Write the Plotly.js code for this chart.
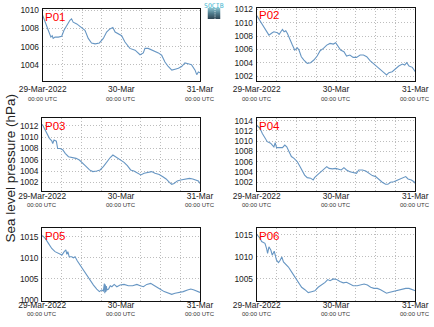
<!DOCTYPE html>
<html><head><meta charset="utf-8">
<script src="https://cdn.plot.ly/plotly-3.0.1.min.js"></script>
<style>html,body{margin:0;padding:0;background:#fff}#chart{width:434px;height:327px}</style>
</head><body><div id="chart"></div><script>
const panelNames = ['P01','P02','P03','P04','P05','P06'];
const tickHours = [0,6,12,18,24,30,36,42,48];
const tickLabels = ['29-Mar-2022','','','','30-Mar','','','','31-Mar'];
const tickSubLabel = '00:00 UTC';
const yTitle = 'Sea level pressure (hPa)';

const p01Hours = [0,0.7,1.7,2.5,2.9,3.2,3.75,4.75,5.8,6.5,7.3,8.3,8.8,9.3,10.4,11.9,12.9,13.9,14.9,16,17.3,18.5,19.5,20.5,21.4,22.1,23.1,24.1,25.1,26.6,28.2,29.7,30.7,31.2,32.2,33.7,35.3,36.3,37.3,38.3,39.4,40.4,41.4,42.4,43.4,44.4,45.4,46.5,47,47.5,48];
const p01Pressure = [1009.45,1008.7,1007.8,1007.05,1007.2,1006.9,1007.05,1007.05,1007.15,1007.8,1008.3,1008.9,1009.06,1008.7,1008.5,1008.1,1007.8,1006.9,1006.4,1006.3,1006.4,1006.9,1007.6,1007.95,1008.1,1007.6,1007.4,1007.2,1006.5,1005.8,1005.6,1005.1,1005.3,1005.8,1005.8,1005.6,1005.3,1005.05,1004.3,1003.8,1003.4,1003.5,1003.6,1003.8,1004.2,1004.1,1004.0,1003.4,1002.9,1003.2,1003.1];

const p02Hours = [0,1.2,2.2,3.0,3.7,4.7,5.2,6.3,6.8,7.3,7.8,8.3,8.8,9.3,9.8,10.8,11.5,12.3,12.8,13.5,14.3,15.3,16.3,17.3,18.3,19.2,20.2,21.2,22.2,23.2,23.9,24.6,25.4,26.4,27.2,28.2,29.2,30.2,31.3,32.3,33.3,34.3,35.3,36.5,37.5,38.5,39.3,40.0,41.0,42.0,43.0,44.1,44.8,45.4,46.1,47.1,47.6,48];
const p02Pressure = [1011.1,1010.15,1009.4,1008.65,1008.15,1008.5,1008.65,1008.5,1008.25,1008.65,1009.0,1008.65,1008.8,1008.4,1007.9,1006.65,1005.9,1006.25,1005.9,1004.9,1004.4,1003.9,1004.0,1004.4,1005.0,1005.8,1006.15,1006.65,1006.9,1006.8,1007.0,1006.5,1005.9,1005.65,1005.0,1005.15,1004.8,1004.8,1005.15,1005.15,1004.9,1004.3,1003.9,1003.4,1002.9,1002.5,1002.15,1002.5,1002.65,1003.15,1003.5,1003.8,1003.65,1004.0,1003.5,1003.3,1002.8,1002.65];

const p03Hours = [0,0.9,1.6,2.2,2.9,3.2,3.6,4.3,4.7,5.5,6.3,7.0,8.0,9.0,10.3,11.3,12.4,13.4,14.4,15.4,16.6,17.6,18.6,19.6,20.7,21.5,22.2,22.9,23.9,24.9,25.9,26.9,27.9,29.0,30.0,31.0,32.0,33.3,34.3,35.6,36.7,37.7,38.7,39.4,40.1,41.1,42.1,43.4,44.8,45.8,46.8,47.5,48];
const p03Pressure = [1012.3,1011.3,1010.4,1009.8,1009.35,1008.9,1009.5,1009.3,1008.0,1008.0,1007.75,1007.15,1006.55,1006.4,1006.25,1005.95,1005.4,1004.8,1004.2,1003.9,1004.0,1004.2,1004.8,1005.65,1006.4,1006.85,1006.55,1006.25,1005.95,1005.55,1004.95,1004.2,1004.0,1003.6,1003.3,1003.6,1003.7,1003.9,1003.6,1003.4,1003.0,1002.6,1002.0,1001.65,1001.8,1002.25,1002.4,1002.6,1002.7,1002.6,1002.4,1002.25,1001.8];

const p04Hours = [0,1.0,1.7,2.4,3.2,4.2,5.2,5.6,5.8,6.0,6.8,7.8,8.5,9.1,9.8,10.5,11.3,12.3,13.1,13.8,14.5,15.3,16.3,17.1,17.5,18.3,19.4,20.4,21.2,21.9,22.9,23.9,24.9,25.6,26.4,27.2,28.2,29.2,30.2,30.9,32.0,33.0,34.0,35.0,36.0,37.0,38.0,39.0,39.7,40.5,41.5,42.7,44.1,45.1,45.8,46.8,47.6,48];
const p04Pressure = [1013.1,1012.5,1011.5,1010.7,1009.9,1009.6,1008.9,1009.7,1009.2,1008.75,1008.75,1008.75,1009.25,1008.9,1007.95,1007.0,1006.65,1006.0,1005.05,1004.2,1003.4,1002.9,1002.8,1002.45,1002.9,1003.4,1004.05,1004.7,1005.05,1004.7,1004.6,1004.7,1004.6,1004.4,1004.85,1004.4,1004.05,1003.95,1003.75,1004.4,1004.4,1004.2,1003.75,1003.3,1003.1,1002.45,1002.0,1001.6,1001.6,1002.0,1002.1,1002.45,1002.8,1003.1,1002.65,1002.45,1002.1,1001.8];

const p05Hours = [0,0.9,1.9,2.9,3.9,5.0,6.0,6.7,7.2,7.5,7.8,8.2,9.0,9.5,10.0,10.7,11.5,12.6,13.6,14.6,15.6,16.6,17.4,18.1,18.6,18.9,19.05,19.2,19.35,19.5,19.7,20.2,20.7,21.2,21.9,22.7,23.7,24.9,26.2,27.5,28.8,29.8,30.8,31.8,33.0,33.8,34.8,35.8,37.1,38.4,39.4,40.4,41.7,42.9,44.2,45.2,46.2,47.2,48];
const p05Pressure = [1015.3,1014.6,1013.4,1012.2,1011.45,1011.05,1010.65,1011.45,1011.85,1010.8,1011.45,1010.25,1010.25,1010.0,1010.25,1009.25,1008.3,1007.1,1005.9,1004.75,1003.55,1002.6,1002.0,1002.4,1002.15,1003.9,1001.6,1003.7,1001.9,1003.3,1002.4,1002.6,1003.4,1003.15,1003.7,1003.15,1003.55,1003.7,1003.4,1003.4,1003.7,1003.4,1003.15,1003.7,1003.95,1003.55,1003.15,1002.6,1002.0,1001.6,1001.35,1001.6,1001.8,1002.0,1002.4,1002.6,1002.4,1002.15,1001.8];

const p06Hours = [0,1.0,1.5,2.5,3.0,3.3,3.7,4.3,4.7,5.3,6.0,6.6,7.1,7.6,8.1,8.6,9.6,10.6,11.6,12.6,13.6,14.6,15.6,16.6,17.6,18.6,19.7,20.7,21.5,22.2,23.2,24.2,25.2,26.2,27.2,28.2,29.2,30.4,31.5,32.5,33.5,34.5,35.5,36.5,37.5,38.5,39.3,40.0,41.0,42.3,43.5,45.1,46.1,47.1,48];
const p06Pressure = [1015.1,1014.25,1013.5,1013.1,1011.9,1010.8,1012.3,1011.5,1010.4,1011.3,1009.25,1008.7,1009.25,1010.0,1008.85,1008.45,1007.7,1006.55,1005.4,1004.25,1003.1,1002.55,1001.9,1002.1,1002.3,1003.1,1003.6,1004.2,1004.85,1004.6,1005.0,1004.85,1004.4,1004.1,1004.25,1003.85,1003.45,1003.45,1003.7,1003.85,1003.6,1003.1,1002.85,1002.85,1002.55,1002.1,1001.75,1001.9,1002.1,1002.3,1002.55,1002.85,1002.85,1002.55,1002.3];

const seriesHours = [p01Hours,p02Hours,p03Hours,p04Hours,p05Hours,p06Hours];
const seriesPressure = [p01Pressure,p02Pressure,p03Pressure,p04Pressure,p05Pressure,p06Pressure];

// ---- layout geometry (pixels) ----
const W = 434, H = 327;
const fx = px => px / W;
const fy = py => 1 - py / H;
const boxes = [
  [42.7,200,9,81],[256.7,415.3,7.5,81],
  [42.2,200,118.3,191],[256.7,415.3,118.3,191],
  [42.2,200,228.3,300.7],[256.7,415.3,228.3,300.7]
];
const yRanges = [[1002.2,1010.15],[1001.25,1012.3],[1000.46,1013.36],[1000.3,1014.45],[999.85,1016.97],[1000.05,1016.5]];
const yDticks = [2,2,2,2,5,5];
const labelStandoff = [0,0,-3,-3,-4,-4];
const subOffset = [17.5,17.5,14,14,13.3,13.3];

const base = Date.UTC(2022,2,29);
const toMs = h => base + h*3600e3;

const gridColor = '#bdbdbd';
const data = [];
const layout = {
  width: W, height: H,
  margin: {l:0,r:0,t:0,b:0},
  paper_bgcolor:'#fff', plot_bgcolor:'#fff',
  showlegend:false,
  font:{family:'Liberation Sans, Arial, sans-serif', color:'#222'},
  annotations: [], images: []
};

panelNames.forEach((name,i) => {
  const n = i+1;
  const xa = 'x'+(n===1?'':n), ya = 'y'+(n===1?'':n);
  const b = boxes[i];
  data.push({
    type:'scatter', mode:'lines',
    x: seriesHours[i].map(toMs), y: seriesPressure[i],
    xaxis: xa, yaxis: ya,
    line:{color:'#6796c3', width:1.1}, hoverinfo:'skip'
  });
  layout['xaxis'+(n===1?'':n)] = {
    type:'date', domain:[fx(b[0]), fx(b[1])], anchor: ya,
    range:[toMs(0), toMs(48)],
    tickmode:'array', tickvals: tickHours.map(toMs), ticktext: tickLabels,
    ticks:'', tickfont:{size:8.4, color:'#222'}, ticklabelstandoff: labelStandoff[i],
    showgrid:true, gridcolor:gridColor, griddash:'1px,2px', gridwidth:1,
    showline:true, mirror:true, linecolor:'#111', linewidth:1, zeroline:false,
    fixedrange:true
  };
  layout['yaxis'+(n===1?'':n)] = {
    domain:[fy(b[3]), fy(b[2])], anchor: xa,
    range: yRanges[i], dtick: yDticks[i], tick0: 1000,
    ticks:'', tickfont:{size:8.4, color:'#222'}, ticklabelstandoff: 1,
    showgrid:true, gridcolor:gridColor, griddash:'1px,2px', gridwidth:1,
    showline:true, mirror:true, linecolor:'#111', linewidth:1, zeroline:false,
    fixedrange:true
  };
  layout.annotations.push({
    text:name, xref:'paper', yref:'paper', x:fx(b[0]+1.5), y:fy(b[2]+0.5),
    xanchor:'left', yanchor:'top', showarrow:false,
    font:{size:11.5, color:'#ff0000'}, borderpad:0
  });
  tickHours.forEach((h,k) => {
    if (!tickLabels[k]) return;
    layout.annotations.push({
      text:tickSubLabel, xref:xa, yref:'paper', x:toMs(h), y:fy(b[3]+subOffset[i]),
      xanchor:'center', yanchor:'middle', showarrow:false,
      font:{size:6, color:'#333'}, borderpad:0
    });
  });
});

layout.annotations.push({
  text:yTitle, xref:'paper', yref:'paper', x:fx(10), y:fy(168.5),
  xanchor:'center', yanchor:'middle', textangle:-90, showarrow:false,
  font:{size:13.5, color:'#222'}
});
layout.annotations.push({
  text:'SOCIB', xref:'paper', yref:'paper', x:fx(214), y:fy(5.6),
  xanchor:'center', yanchor:'middle', showarrow:false,
  font:{size:6.5, color:'#3fb6cf', family:'DejaVu Sans Mono, monospace'}, borderpad:0
});
const svg = "<svg xmlns='http://www.w3.org/2000/svg' width='13' height='11'><defs><linearGradient id='g' x1='0' y1='0' x2='0' y2='1'><stop offset='0' stop-color='#8cc3d0'/><stop offset='0.5' stop-color='#4f7b8c'/><stop offset='1' stop-color='#2d4452'/></linearGradient></defs><rect width='13' height='11' fill='url(#g)'/><line x1='7.5' y1='1' x2='7.5' y2='11' stroke='#fff' stroke-width='0.8' stroke-dasharray='1,1.2'/></svg>";
layout.images.push({
  source:'data:image/svg+xml;utf8,'+encodeURIComponent(svg),
  xref:'paper', yref:'paper', x:fx(207.5), y:fy(8), sizex:13/W, sizey:11/H,
  xanchor:'left', yanchor:'top', sizing:'stretch', layer:'above'
});

Plotly.newPlot('chart', data, layout, {staticPlot:true, displayModeBar:false});
</script></body></html>
